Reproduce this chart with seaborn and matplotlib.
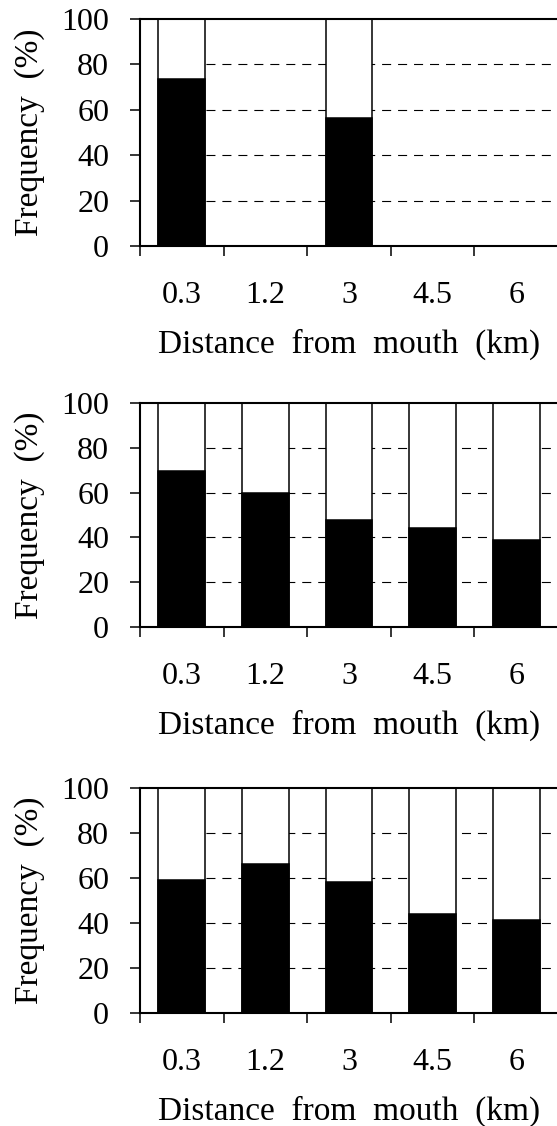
import matplotlib
matplotlib.use("Agg")
import matplotlib.pyplot as plt
from matplotlib.ticker import FixedLocator
import seaborn as sns
import pandas as pd
import numpy as np

# ---- data ----
distances = ["0.3", "1.2", "3", "4.5", "6"]
black_top = [73.5, 0, 56.2, 0, 0]
total_top = [100, 0, 100, 0, 0]
black_mid = [69.6, 60.0, 47.9, 44.4, 39.0]
total_mid = [100, 100, 100, 100, 100]
black_bot = [59.1, 66.4, 58.4, 43.8, 41.3]
total_bot = [100, 100, 100, 100, 100]
y_ticks = [0, 20, 40, 60, 80, 100]
x_label = "Distance  from  mouth  (km)"
y_label = "Frequency  (%)"

sns.set_theme(style="ticks", rc={
    "text.color": "black", "axes.labelcolor": "black",
    "xtick.color": "black", "ytick.color": "black",
    "axes.edgecolor": "black",
})
plt.rcParams["font.family"] = ["Liberation Serif", "DejaVu Serif"]
plt.rcParams["lines.scale_dashes"] = False

fig = plt.figure(figsize=(5.57, 11.26), dpi=100)
positions = [
    (0.2513, 0.7815, 0.7504, 0.2016),
    (0.2513, 0.4432, 0.7504, 0.1989),
    (0.2513, 0.1004, 0.7504, 0.1998),
]
panels = [(black_top, total_top), (black_mid, total_mid), (black_bot, total_bot)]

for pos, (blk, tot) in zip(positions, panels):
    ax = fig.add_axes(pos)
    df = pd.DataFrame({"distance": distances, "black": blk, "total": tot})
    sns.barplot(data=df, x="distance", y="total", order=distances, color="white",
                saturation=1, edgecolor="black", linewidth=1.1, width=0.56,
                errorbar=None, ax=ax, zorder=2)
    sns.barplot(data=df, x="distance", y="black", order=distances, color="black",
                saturation=1, edgecolor="black", linewidth=1.1, width=0.56,
                errorbar=None, ax=ax, zorder=3)
    ax.set_xlim(-0.5, len(distances) - 0.5)
    ax.set_ylim(0, 100)
    ax.set_yticks(y_ticks)
    ax.set_yticklabels([str(t) for t in y_ticks], fontsize=23)
    ax.set_xticks(range(len(distances)))
    ax.set_xticklabels(distances, fontsize=23)
    ax.xaxis.set_minor_locator(FixedLocator(np.arange(-0.5, len(distances), 1.0)))
    ax.tick_params(axis="x", which="major", length=0, pad=25, bottom=True)
    ax.tick_params(axis="x", which="minor", length=7.2, width=1.1, direction="out", bottom=True)
    ax.tick_params(axis="y", which="major", length=7.2, width=1.1, direction="out", left=True, pad=15)
    # dashed gridlines starting at the first bar (as in the reference)
    first_left = ax.patches[0].get_x()
    ax.hlines(y_ticks[1:-1], xmin=first_left, xmax=len(distances) - 0.5,
              colors="black", linestyles=[(0, (6.5, 5))], linewidth=0.8, zorder=1)
    ax.grid(False)
    ax.spines["right"].set_visible(False)
    for s in ["top", "left", "bottom"]:
        ax.spines[s].set_linewidth(1.5)
        ax.spines[s].set_color("black")
        ax.spines[s].set_zorder(5)
    ax.set_xlabel(x_label, fontsize=24, labelpad=14)
    ax.set_ylabel(y_label, fontsize=24, labelpad=12)

fig.savefig("out.png", dpi=100)
